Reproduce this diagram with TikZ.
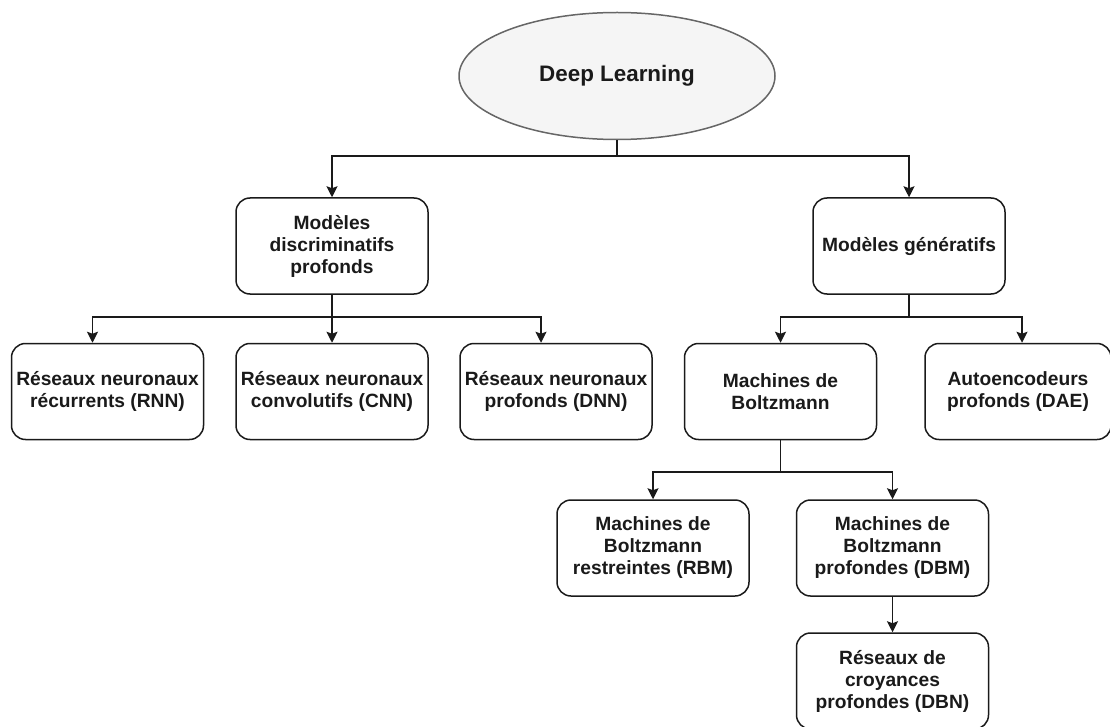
\documentclass[tikz,border=0pt]{standalone}
\usepackage{fontspec}
\setmainfont{Liberation Sans}
\usetikzlibrary{shapes.geometric,arrows.meta}
\definecolor{inkc}{HTML}{1A1A1A}
\definecolor{ellfill}{HTML}{F5F5F5}
\definecolor{ellline}{HTML}{666666}
\tikzset{
  stepbox/.style={draw=inkc, line width=1.5pt, rounded corners=14pt,
    minimum width=192pt, minimum height=96pt, inner sep=0pt, align=center,
    text=inkc, font=\bfseries\fontsize{19.2}{22}\selectfont},
  rootnode/.style={ellipse, draw=ellline, fill=ellfill, line width=1.5pt,
    minimum width=316pt, minimum height=127pt, inner sep=0pt,
    text=inkc, font=\bfseries\fontsize{22.4}{26}\selectfont},
  conn/.style={draw=inkc, line width=1.5pt,
    -{Stealth[length=11pt, width=11pt, inset=2pt]}},
}
\begin{document}
\begin{tikzpicture}[x=1pt, y=-1pt]
\useasboundingbox (0,0) rectangle (1110,727);

% root
\node[rootnode] (dl) at (617,76) {Deep Learning};

% first level
\node[stepbox] (disc) at (332,246) {Modèles\\discriminatifs\\profonds};
\node[stepbox] (gen)  at (909,246) {Modèles génératifs};

% second level
\node[stepbox] (rnn)   at (107.5,391.5) {Réseaux neuronaux\\récurrents (RNN)};
\node[stepbox] (cnn)   at (332,391.5)   {Réseaux neuronaux\\convolutifs (CNN)};
\node[stepbox] (dnn)   at (556,391.5)   {Réseaux neuronaux\\profonds (DNN)};
\node[stepbox] (boltz) at (780.5,391.5) {Machines de\\Boltzmann};
\node[stepbox, minimum width=186pt] (dae) at (1018,391.5) {Autoencodeurs\\profonds (DAE)};

% third level
\node[stepbox] (rbm) at (653,548)   {Machines de\\Boltzmann\\restreintes (RBM)};
\node[stepbox] (dbm) at (892.5,548) {Machines de\\Boltzmann\\profondes (DBM)};

% fourth level
\node[stepbox] (dbn) at (892.5,681) {Réseaux de\\croyances\\profondes (DBN)};

% bus levels of the tree connectors
\coordinate (bus0) at (0,156);
\coordinate (bus1) at (0,317);
\coordinate (bus2) at (0,472);
% entry points on the top edges that sit off the box centres
\coordinate (rnnin) at ([xshift=-15pt]rnn.north);
\coordinate (dnnin) at ([xshift=-15pt]dnn.north);
\coordinate (daein) at ([xshift=4pt]dae.north);

\draw[conn] (dl.south) |- (bus0 -| disc.north) -- (disc.north);
\draw[conn] (dl.south) |- (bus0 -| gen.north) -- (gen.north);

\draw[conn] (disc.south) |- (bus1 -| rnnin) -- (rnnin);
\draw[conn] (disc.south) -- (cnn.north);
\draw[conn] (disc.south) |- (bus1 -| dnnin) -- (dnnin);

\draw[conn] (gen.south) |- (bus1 -| boltz.north) -- (boltz.north);
\draw[conn] (gen.south) |- (bus1 -| daein) -- (daein);

\draw[conn] (boltz.south) |- (bus2 -| rbm.north) -- (rbm.north);
\draw[conn] (boltz.south) |- (bus2 -| dbm.north) -- (dbm.north);

\draw[conn] (dbm.south) -- (dbn.north);
\end{tikzpicture}
\end{document}
